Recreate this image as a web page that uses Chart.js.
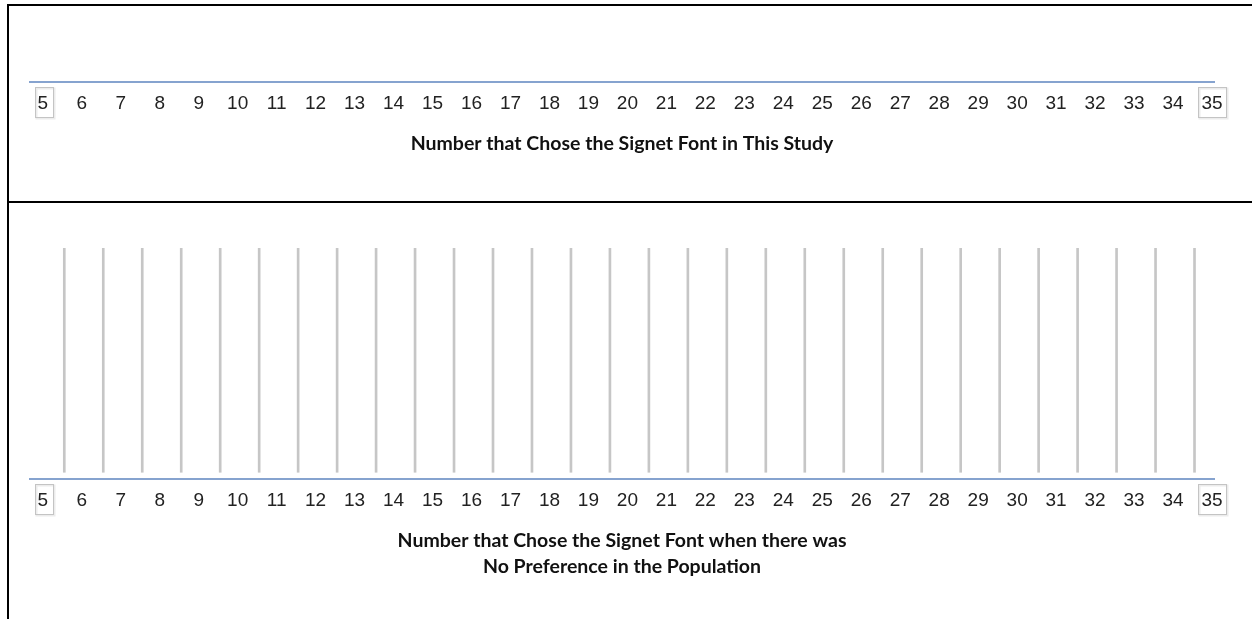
<!DOCTYPE html>
<html>
<head>
<meta charset="utf-8">
<script src="https://cdn.jsdelivr.net/npm/chart.js@4.4.1/dist/chart.umd.min.js"></script>
<style>
  html, body { margin: 0; padding: 0; background: #fff; overflow: hidden; }
  .panel { position: absolute; left: 7px; width: 1300px; box-sizing: border-box; border-left: 2px solid #000; }
  #top { top: 4px; height: 199px; border-top: 2px solid #000; border-bottom: 2px solid #000; }
  #bottom { top: 203px; height: 416px; }
  .box { position: relative; width: 1243px; }
  #top .box { height: 195px; }
  #bottom .box { height: 416px; }
</style>
</head>
<body>
<div class="panel" id="top"><div class="box"><canvas id="studyChart"></canvas></div></div>
<div class="panel" id="bottom"><div class="box"><canvas id="nullChart"></canvas></div></div>
<script>
// axis ticks shared by both dot plots
const tickValues = [5, 6, 7, 8, 9, 10, 11, 12, 13, 14, 15, 16, 17, 18, 19, 20,
                    21, 22, 23, 24, 25, 26, 27, 28, 29, 30, 31, 32, 33, 34, 35];
// vertical dividers in the lower plot
const dividers = [5.5, 6.5, 7.5, 8.5, 9.5, 10.5, 11.5, 12.5, 13.5, 14.5, 15.5, 16.5, 17.5, 18.5, 19.5,
                  20.5, 21.5, 22.5, 23.5, 24.5, 25.5, 26.5, 27.5, 28.5, 29.5, 30.5, 31.5, 32.5, 33.5, 34.5];
const dividerSpan = [0, 1];
const studyTitle = 'Number that Chose the Signet Font in This Study';
const nullTitle = ['Number that Chose the Signet Font when there was', 'No Preference in the Population'];

const TICK_FONT = { family: '"Liberation Sans", Arial, sans-serif', size: 19 };
const TICK_PAD = 10;
const LABEL_SHIFT = -2;

// grey outline round the first and last tick label
const endBoxes = {
    id: 'endBoxes',
    afterDraw(chart) {
        const scale = chart.scales.x;
        const ctx = chart.ctx;
        const lineH = TICK_FONT.size * 1.2;
        ctx.save();
        ctx.font = TICK_FONT.size + 'px ' + TICK_FONT.family;
        [tickValues[0], tickValues[tickValues.length - 1]].forEach(v => {
            const w = ctx.measureText(String(v)).width + 7;
            const cx = scale.getPixelForValue(v) + LABEL_SHIFT + 0.5;
            const cy = scale.top + TICK_PAD + lineH / 2 - 1;
            const x = Math.round(cx - w / 2) + 0.5, y = Math.round(cy - 15) + 0.5;
            ctx.strokeStyle = '#ececec';
            ctx.lineWidth = 2;
            ctx.strokeRect(x + 1, y + 1, Math.round(w), 30);
            ctx.strokeStyle = '#c4c4c4';
            ctx.lineWidth = 1;
            ctx.strokeRect(x, y, Math.round(w), 30);
        });
        ctx.restore();
    }
};

function xAxis(title, lineHeight, axisHeight) {
    return {
        type: 'linear',
        offset: false,
        min: 4.62,
        max: 35,
        afterBuildTicks: axis => { axis.ticks = tickValues.map(v => ({ value: v })); },
        afterFit: axis => { axis.height = axisHeight; },
        grid: { display: false, drawTicks: false },
        border: { display: true, color: '#86a3cf', width: 2 },
        ticks: { color: '#222', font: TICK_FONT, padding: TICK_PAD, labelOffset: LABEL_SHIFT, maxRotation: 0, autoSkip: false },
        title: {
            display: true,
            text: title,
            color: '#111',
            font: { family: 'Lato, "Open Sans", sans-serif', size: 19.5, weight: 'bold', lineHeight: lineHeight },
            padding: { top: 0, bottom: 0 }
        }
    };
}

function baseOptions(title, lineHeight, axisHeight, padding) {
    return {
        responsive: true,
        maintainAspectRatio: false,
        animation: false,
        layout: { padding: padding },
        plugins: { legend: { display: false }, tooltip: { enabled: false } },
        scales: {
            x: xAxis(title, lineHeight, axisHeight),
            y: { display: false, min: -0.03, max: 1 }
        }
    };
}

new Chart(document.getElementById('studyChart'), {
    type: 'bar',
    data: { datasets: [] },
    options: baseOptions(studyTitle, 1.2, 73, { left: 21, right: 38, top: 20, bottom: 46 }),
    plugins: [endBoxes]
});

new Chart(document.getElementById('nullChart'), {
    type: 'bar',
    data: {
        datasets: [{
            data: dividers.map(d => ({ x: d, y: dividerSpan })),
            backgroundColor: '#c6c6c6',
            borderWidth: 0,
            barThickness: 2,
            grouped: false
        }]
    },
    options: baseOptions(nullTitle, 1.333, 101, { left: 21, right: 38, top: 45, bottom: 39 }),
    plugins: [endBoxes]
});
</script>
</body>
</html>
